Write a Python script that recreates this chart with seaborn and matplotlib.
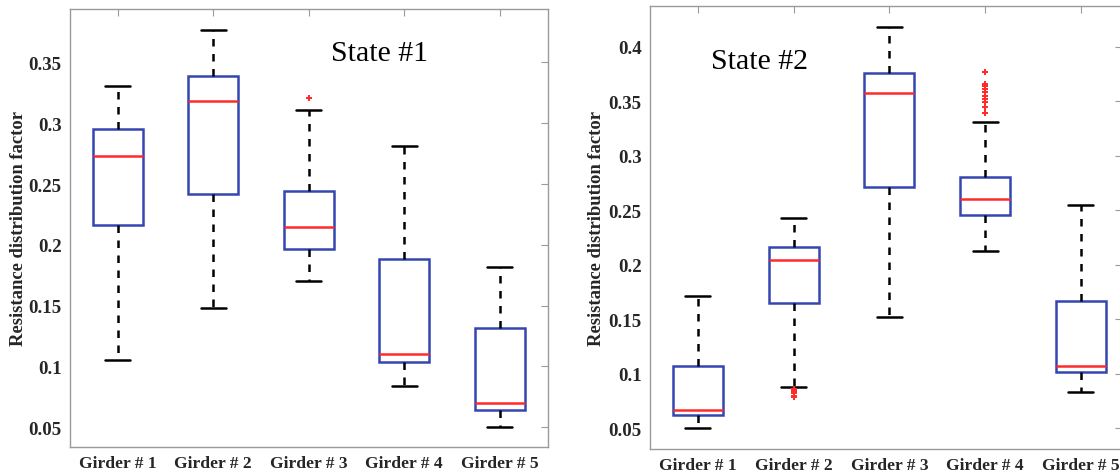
import matplotlib
matplotlib.use("Agg")
import matplotlib.pyplot as plt
import seaborn as sns
import pandas as pd

# ---------------- data ----------------
girders = ["Girder # 1", "Girder # 2", "Girder # 3", "Girder # 4", "Girder # 5"]

# State #1 five-number summaries (whisker low, Q1, median, Q3, whisker high)
s1_low = [0.105, 0.148, 0.170, 0.084, 0.0505]
s1_q1 = [0.216, 0.242, 0.197, 0.1035, 0.0645]
s1_med = [0.273, 0.318, 0.215, 0.110, 0.070]
s1_q3 = [0.295, 0.3385, 0.244, 0.188, 0.132]
s1_high = [0.331, 0.377, 0.311, 0.281, 0.182]
s1_out_girder = ["Girder # 3"]
s1_out_value = [0.321]

# State #2
s2_low = [0.050, 0.088, 0.152, 0.213, 0.083]
s2_q1 = [0.062, 0.1646, 0.271, 0.2453, 0.1016]
s2_med = [0.067, 0.204, 0.3575, 0.260, 0.107]
s2_q3 = [0.107, 0.216, 0.376, 0.2807, 0.1667]
s2_high = [0.1716, 0.243, 0.418, 0.331, 0.255]
s2_out_girder = ["Girder # 2"] * 5 + ["Girder # 4"] * 10
s2_out_value = [0.086, 0.084, 0.082, 0.080, 0.079,
                0.3765, 0.366, 0.364, 0.361, 0.358, 0.355, 0.352, 0.349, 0.345, 0.339]

yticks1 = [0.05, 0.1, 0.15, 0.2, 0.25, 0.3, 0.35]
yticks2 = [0.05, 0.1, 0.15, 0.2, 0.25, 0.3, 0.35, 0.4]
ylabel = "Resistance distribution factor"


def summary_frame(low, q1, med, q3, high):
    rows = []
    for g, a, b, c, d, e in zip(girders, low, q1, med, q3, high):
        for v in (a, b, c, d, e):
            rows.append({"girder": g, "value": v})
    return pd.DataFrame(rows)


df1 = summary_frame(s1_low, s1_q1, s1_med, s1_q3, s1_high)
df2 = summary_frame(s2_low, s2_q1, s2_med, s2_q3, s2_high)
out1 = pd.DataFrame({"girder": s1_out_girder, "value": s1_out_value})
out2 = pd.DataFrame({"girder": s2_out_girder, "value": s2_out_value})

# ---------------- style ----------------
sns.set_theme(style="white")
plt.rcParams["font.family"] = ["Liberation Serif", "DejaVu Serif"]

BLUE = "#3446b0"
RED = "#ff2a2a"
SPINE = "#9a9a9a"

fig = plt.figure(figsize=(11.2, 4.77), dpi=100)
ax1 = fig.add_axes([70 / 1120, 29.3 / 477, 477.5 / 1120, 437.7 / 477])
ax2 = fig.add_axes([650 / 1120, 27 / 477, 472 / 1120, 442.7 / 477])


def draw(ax, df, out, yticks, ylim, xlim, title, tx, ty):
    sns.boxplot(
        data=df, x="girder", y="value", order=girders, ax=ax,
        whis=(0, 100), width=0.52, color="white", linecolor=BLUE, linewidth=1.8,
        boxprops=dict(facecolor="white", edgecolor=BLUE, linewidth=1.8),
        medianprops=dict(color=RED, linewidth=1.8),
        whiskerprops=dict(color="black", linestyle=(0, (3, 3)), linewidth=1.8),
        capprops=dict(color="black", linewidth=1.8),
        showfliers=False,
    )
    sns.stripplot(
        data=out, x="girder", y="value", order=girders, ax=ax,
        jitter=False, color=RED, marker="P", size=5, linewidth=0,
    )
    ax.set_xlim(*xlim)
    ax.set_ylim(*ylim)
    ax.set_yticks(yticks)
    ax.set_yticklabels([f"{t:g}" for t in yticks])
    ax.set_xlabel("")
    ax.set_ylabel(ylabel, fontsize=13.4, fontweight="bold")
    ax.tick_params(axis="both", which="both", direction="in", length=5, width=0.8,
                   color=SPINE, top=True, right=True, pad=6)
    ax.tick_params(axis="x", labelsize=12.6)
    ax.tick_params(axis="y", labelsize=13.6)
    for lab in ax.get_xticklabels() + ax.get_yticklabels():
        lab.set_fontweight("bold")
    for sp in ax.spines.values():
        sp.set_visible(True)
        sp.set_color(SPINE)
        sp.set_linewidth(1.0)
    ax.text(tx, ty, title, fontsize=21.5, ha="center", va="center", color="black")


draw(ax1, df1, out1, yticks1, (0.034, 0.394), (-0.5, 4.5), "State #1", 2.74, 0.358)
draw(ax2, df2, out2, yticks2, (0.031, 0.437), (-0.5, 4.43), "State #2", 0.64, 0.387)
ax1.yaxis.set_label_coords(-0.09, 0.5)
ax2.yaxis.set_label_coords(-0.095, 0.5)

fig.savefig("out.png", dpi=100)
